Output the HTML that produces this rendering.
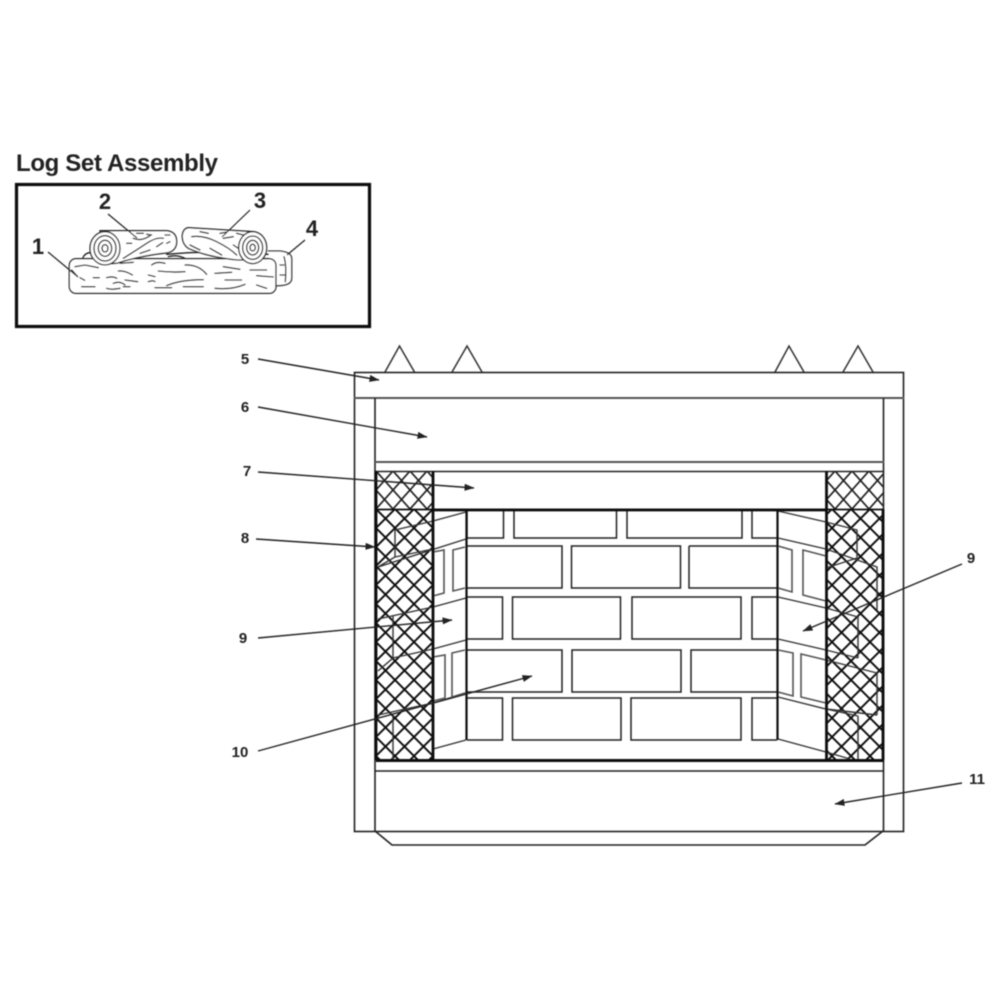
<!DOCTYPE html>
<html><head><meta charset="utf-8"><style>
html,body{margin:0;padding:0;background:#fff}
svg{display:block}
text{font-family:"Liberation Sans",sans-serif;font-weight:bold;fill:#222}
</style></head><body>
<svg width="1000" height="1000" viewBox="0 0 1000 1000" xmlns="http://www.w3.org/2000/svg">
<defs>
<pattern id="h1" patternUnits="userSpaceOnUse" x="376" y="471" width="17" height="19">
<path d="M0 0L17 19M17 0L0 19" stroke="#222" stroke-width="1.700" fill="none"/>
</pattern>
<pattern id="h2" patternUnits="userSpaceOnUse" x="376" y="509" width="19" height="19">
<path d="M0 0L19 19M19 0L0 19" stroke="#111" stroke-width="1.900" fill="none"/>
</pattern>
<marker id="a" markerWidth="10" markerHeight="7" refX="9.500" refY="3.500" orient="auto" markerUnits="userSpaceOnUse"><path d="M0 0L10 3.500L0 7Z" fill="#222"/></marker>
<filter id="b"><feGaussianBlur stdDeviation="0.45"/></filter>
</defs>
<g filter="url(#b)">
<text x="16" y="171" font-size="24" textLength="202" lengthAdjust="spacing">Log Set Assembly</text>
<rect x="16.500" y="184.500" width="353" height="142" fill="none" stroke="#111" stroke-width="3.200"/>

<g transform="translate(60,215) scale(0.3333)" fill="none" stroke="#222" stroke-width="4" stroke-linecap="round">
<path d="M625 108H660Q695 112 695 130V190Q695 212 650 212" fill="#fff"/>
<path d="M672 125Q680 150 676 200M660 150h12M660 180h14"/>
<path d="M68 130Q75 110 100 113M320 118Q450 105 625 118" />
<rect x="28" y="131" width="620" height="104" rx="20" fill="#fff"/>
<path d="M120 47H320Q350 50 350 80Q350 105 325 113Q240 122 170 145L130 148Z" fill="#fff"/>
<ellipse cx="135" cy="100" rx="45" ry="50" fill="#fff"/>
<ellipse cx="135" cy="100" rx="33" ry="38"/><ellipse cx="135" cy="100" rx="20" ry="24"/><ellipse cx="135" cy="100" rx="9" ry="11"/>
<path d="M385 38Q450 42 580 50L590 135L530 135Q440 125 385 100Q365 85 367 60Q370 40 385 38Z" fill="#fff"/>
<ellipse cx="578" cy="98" rx="42" ry="48" fill="#fff"/>
<ellipse cx="578" cy="98" rx="30" ry="35"/><ellipse cx="578" cy="98" rx="18" ry="22"/><ellipse cx="578" cy="98" rx="8" ry="10"/>
<path d="M220 70Q245 80 270 62M190 130Q230 105 260 85T310 70M200 85h15M290 95l18-12M240 115l30-10M315 60h15M320 85l10-5M230 55h20M260 58l15 2"/>
<path d="M395 65Q430 60 470 80T530 120M390 90l30 15M490 70l30-5M420 50l25 5M480 55l20-3M520 90l15 10M450 100l35 20M530 55l20 5"/>
<path d="M325 125Q350 118 375 130"/>
<path d="M45 155l30-5 40 8M35 165l18 20M60 188l14 8M100 188h18M140 188q20-5 30 2M175 168q20-2 42 12M65 215h40M140 220q15 5 40 0M160 205q20-8 35 5M195 195l38 5M180 145l40-3M190 215h20"/>
<path d="M275 150q15-12 40-5M295 168q40 5 80 2M375 150q40-2 65 28M265 180l20 5M265 200q15-5 20 0M320 212q40-18 110-18M285 218h50M370 215h60M465 175l50-3M490 155l50 8M495 195h50M465 220q50 5 90-12M570 165h50M590 182l50 4M590 210l30 10"/>
</g>
<g stroke="#222" stroke-width="1.200" fill="none">
<path d="M48 252L78 277M108 214L137 238M250 210L222 237M305 240L287 255"/>
</g>
<text x="38" y="254" font-size="22" text-anchor="middle">1</text>
<text x="105" y="209" font-size="22" text-anchor="middle">2</text>
<text x="260" y="208" font-size="22" text-anchor="middle">3</text>
<text x="312" y="236" font-size="22" text-anchor="middle">4</text>

<!-- spikes -->
<g fill="none" stroke="#333" stroke-width="1.500">
<path d="M385 372L399.500 346L414.500 372M452 372L467 346L482 372M775 372L789 346L804 372M843 372L858 346L873 372"/>
</g>
<!-- frame -->
<g fill="none" stroke="#222" stroke-width="1.600">
<rect x="354.500" y="372.500" width="549" height="459"/>
<path d="M354 398H904" stroke="#555" stroke-width="2"/>
<path d="M375 398V831M883.500 398V831"/>
<path d="M375 462H884" stroke="#555" stroke-width="2"/>
<path d="M375 471.500H884M375 771H884" stroke-width="1.500"/>
<path d="M375 831L392 845H865L883 831"/>
</g>
<!-- hatch -->
<rect x="376" y="471" width="57" height="38" fill="url(#h1)"/>
<rect x="826" y="471" width="58" height="38" fill="url(#h1)"/>
<rect x="376" y="509" width="57" height="251" fill="url(#h2)"/>
<rect x="826" y="509" width="58" height="251" fill="url(#h2)"/>

<!-- bricks -->
<g fill="none" stroke="#222" stroke-width="1.500">
<path d="M467 510V538H503.500V510M514 510V538H616.500V510M627 510V538H742V510M752 510V538H777"/>
<path d="M467 546H562V588H467M571.500 546H680.500V588H571.500ZM689 546H777M689 546V588H777"/>
<path d="M467 597H502.500V639H467M512.500 597H620.500V639H512.500ZM632 597H741V639H632ZM777 597H752V639H777"/>
<path d="M467 650H562V692H467M572 650H681V692H572ZM777 650H691V692H777"/>
<path d="M467 698H502.500V740H467M512.500 698H621V740H512.500ZM631 698H741V740H631ZM777 698H752V740H777"/>
</g>
<!-- side walls -->
<g fill="none" stroke="#333" stroke-width="1.400">
<path d="M466 512L433 521L395 530V557L378 567L466 539M395 557L433 549"/>
<path d="M466 598L433 607L378 619M393 616V658M466 640L433 649L393 658L378 671M466 693L433 703L378 715M393 716V760M466 740L433 749"/>
<path d="M778 511L826 522L857 530V558M778 538L826 549L877 567V610M857 558L826 568"/>
<path d="M778 597L826 608L858 617V658M778 639L826 650L858 658M826 660L877 673V715M778 697L826 709L877 715M858 716V760M826 709L858 716M778 739L826 752L850 759"/>
</g>
<g fill="none" stroke="#555" stroke-width="1.600">
<path d="M433 552L444 550V593L433 596M465 547L453 550V591L465 588"/>
<path d="M433 657L445 655V698L433 701M465 650L452 653V697L465 693"/>
<path d="M778 546L792 550V592L778 588M826 556L803 550V595L826 601"/>
<path d="M778 650L793 653V696L778 692M826 660L801 654V697L826 703"/>
</g>
<!-- heavy lines -->
<g fill="none" stroke="#111">
<path d="M376 471V760M433 471V760M826.500 471V760M883 509V760" stroke-width="2.800"/>
<path d="M376 509.500H884" stroke-width="1.800"/>
<path d="M433 510H826" stroke-width="2.800"/>
<path d="M376 760.500H884" stroke-width="3"/>
<path d="M466.500 510V740M777.500 510V740" stroke-width="2.200"/>
</g>
<!-- leaders -->
<g fill="none" stroke="#222" stroke-width="1.400">
<path d="M258 359L379 380" marker-end="url(#a)"/>
<path d="M258 407L427 437" marker-end="url(#a)"/>
<path d="M258 472L474 488" marker-end="url(#a)"/>
<path d="M256 539L375 547" marker-end="url(#a)"/>
<path d="M258 638L452 620" marker-end="url(#a)"/>
<path d="M258 751L532 676" marker-end="url(#a)"/>
<path d="M962 564L803 631" marker-end="url(#a)"/>
<path d="M962 783L835 804" marker-end="url(#a)"/>
</g>
<g font-size="15" text-anchor="middle">
<text x="245" y="364">5</text>
<text x="245" y="412">6</text>
<text x="247" y="476">7</text>
<text x="245" y="543">8</text>
<text x="243" y="643">9</text>
<text x="240" y="757">10</text>
<text x="971" y="563">9</text>
<text x="977" y="784">11</text>
</g>
</g>
</svg>
</body></html>
